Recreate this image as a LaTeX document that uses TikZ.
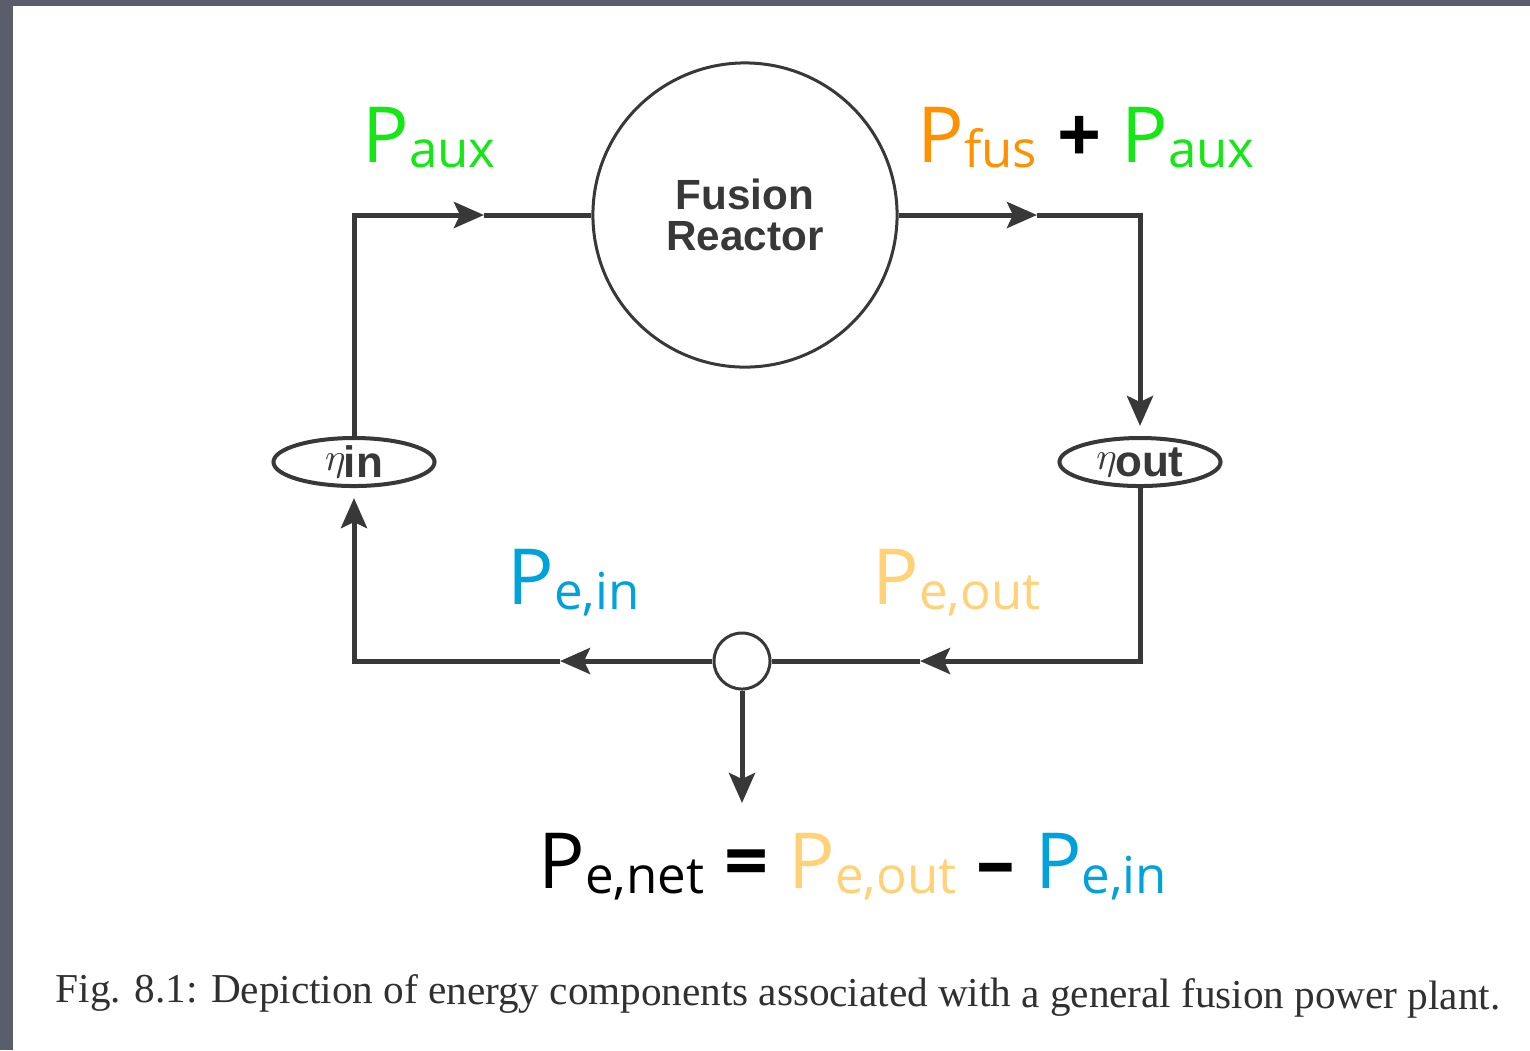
\documentclass[tikz,border=0pt]{standalone}
\usepackage{fontspec}
\usetikzlibrary{arrows.meta,shapes.geometric,positioning}
\newfontfamily\handfont{Open Sans}
\newfontfamily\diagfont{Liberation Sans}
\newfontfamily\capfont{Liberation Serif}
\definecolor{bggray}{RGB}{90,93,106}
\definecolor{linegray}{RGB}{56,56,56}
\definecolor{capgray}{RGB}{48,48,48}
\definecolor{pgreen}{RGB}{20,232,20}
\definecolor{porange}{RGB}{255,145,0}
\definecolor{pblue}{RGB}{0,162,220}
\definecolor{ppale}{RGB}{255,210,120}
% power symbol with a smaller subscript
\newcommand{\pwr}[2]{\textcolor{#1}{P{\fontsize{14.5}{14.5}\selectfont\raisebox{-1.5pt}{#2}}}}
% efficiency label inside the ellipses
\newcommand{\eff}[1]{\raisebox{2pt}{\fontsize{11}{11}\selectfont$\eta$}\hspace{-0.5pt}{\diagfont\bfseries\fontsize{12.5}{12.5}\selectfont #1}}
\begin{document}
\begin{tikzpicture}[x=0.01cm,y=-0.01cm,
        flow/.style={line width=0.05cm, draw=linegray},
        flowtip/.style={-{Stealth[length=0.3cm,width=0.26cm,inset=0.06cm]}},
        reactor/.style={circle, draw=linegray, line width=0.03cm, minimum size=3.04cm, inner sep=0,
            align=center, text=linegray, font=\diagfont\bfseries\fontsize{12}{11.5}\selectfont},
        effbox/.style={ellipse, draw=linegray, line width=0.04cm, minimum width=1.61cm,
            minimum height=0.48cm, inner sep=0, text=linegray},
        junction/.style={circle, draw=linegray, line width=0.03cm, minimum size=0.56cm, inner sep=0, fill=white},
        lbl/.style={anchor=base west, inner sep=0, font=\handfont\fontsize{22}{22}\selectfont}]
        \useasboundingbox (0,0) rectangle (1530,1050);
        % Slide frame and page
        \fill[bggray] (0,0) rectangle (1530,1050);
        \fill[white] (13,6) rectangle (1530,1050);
        % Main blocks
        \node[reactor] (reactor) at (745,215) {Fusion\\Reactor};
        \node[effbox] (etain) at (354,462) {\eff{in}};
        \node[effbox] (etaout) at (1140,462) {\eff{out}};
        \node[junction] (junc) at (742,661) {};
        % Corners and arrow positions
        \coordinate (topleft) at (354,215);
        \coordinate (topright) at (1140,215);
        \coordinate (botleft) at (354,661);
        \coordinate (botright) at (1140,661);
        \coordinate (auxtip) at (484,215);
        \coordinate (fustip) at (1037,215);
        \coordinate (outtip) at (920,661);
        \coordinate (intip) at (560,661);
        \coordinate (netend) at (742,803);
        % Power loop
        \draw[flow, flowtip] (etain.north) -- (topleft) -- (auxtip);
        \draw[flow] (auxtip) -- (reactor.west);
        \draw[flow, flowtip] (reactor.east) -- (fustip);
        \draw[flow, flowtip, shorten >=0.1cm] (fustip) -- (topright) -- (etaout.north);
        \draw[flow, flowtip] (etaout.south) -- (botright) -- (outtip);
        \draw[flow] (outtip) -- (junc.east);
        \draw[flow, flowtip] (junc.west) -- (intip);
        \draw[flow, flowtip, shorten >=0.1cm] (intip) -- (botleft) -- (etain.south);
        \draw[flow, flowtip] (junc.south) -- (netend);
        % Power labels
        \node[lbl] (paux) at (362,162) {\pwr{pgreen}{aux}};
        \node[lbl] (ptotal) at (917,162) {\pwr{porange}{fus} \textbf{+} \pwr{pgreen}{aux}};
        \node[lbl] (pein) at (507,604) {\pwr{pblue}{e,in}};
        \node[lbl] (peout) at (872,604) {\pwr{ppale}{e,out}};
        \node[lbl] (pnet) at (538,888) {\pwr{black}{e,net} \textbf{=} \pwr{ppale}{e,out} \textbf{–} \pwr{pblue}{e,in}};
        % Caption
        \node[anchor=base west, inner sep=0, rotate=-0.3, text=capgray, font=\capfont\fontsize{11.7}{11.7}\selectfont]
            (caption) at (55,1002) {Fig. 8.1: Depiction of energy components associated with a general fusion power plant.};
    \end{tikzpicture}
\end{document}
